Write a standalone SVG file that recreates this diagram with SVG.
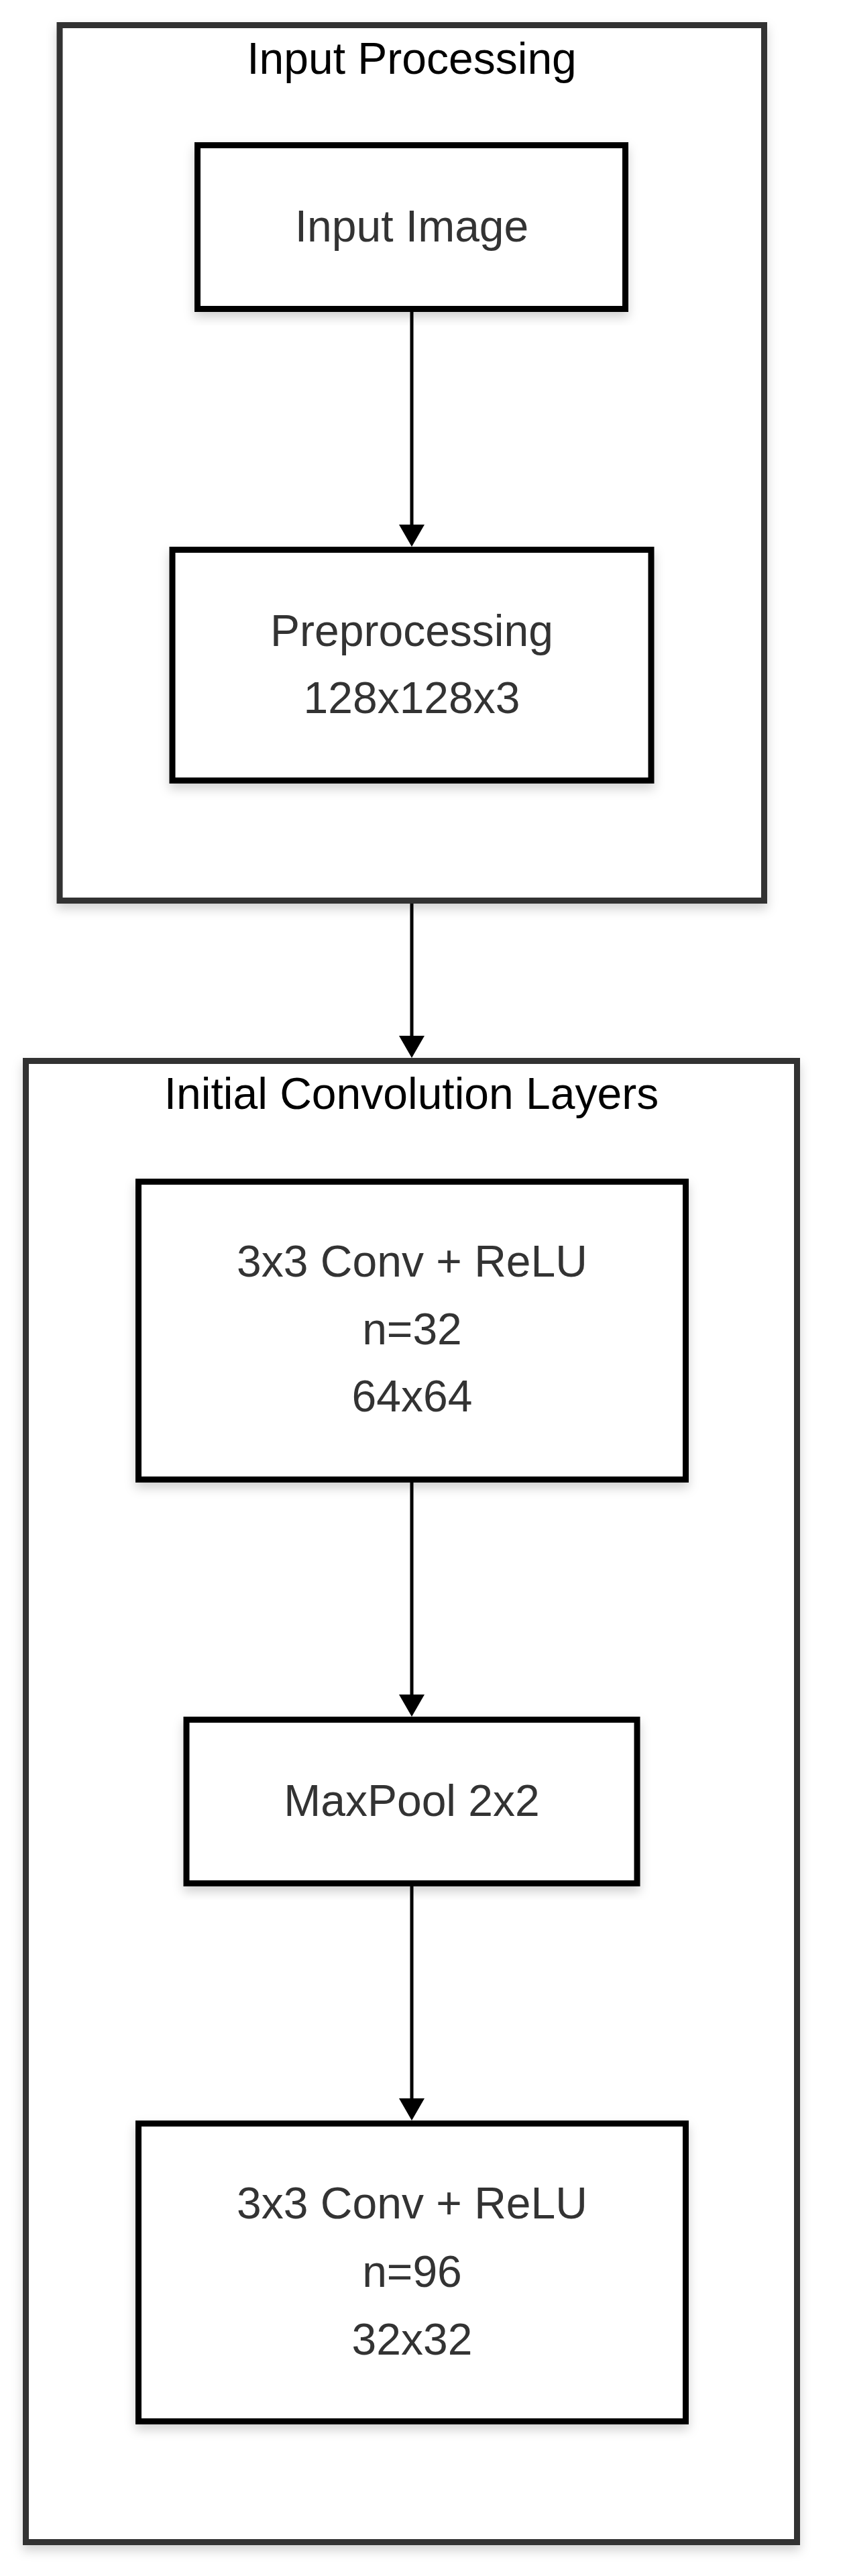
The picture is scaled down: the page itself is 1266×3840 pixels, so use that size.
<svg xmlns="http://www.w3.org/2000/svg" width="1266" height="3840" viewBox="0 0 1266 3840">
<style>
.cluster rect{fill:#ffffff;stroke:#333333;stroke-width:9;filter:url(#shadow)}
.node rect{fill:#ffffff;stroke:#000000;stroke-width:9;filter:url(#shadow)}
.title{font-family:"Liberation Sans",Arial,sans-serif;font-size:66px;fill:#000000;text-anchor:middle}
.label{font-family:"Liberation Sans",Arial,sans-serif;font-size:66px;fill:#333333;text-anchor:middle}
.edge{stroke:#000000;stroke-width:5;fill:none;marker-end:url(#arrow)}
</style>
<defs>
<filter id="shadow" x="-10%" y="-10%" width="120%" height="120%">
<feDropShadow dx="0" dy="8" stdDeviation="8" flood-color="#000000" flood-opacity="0.18"/>
</filter>
<marker id="arrow" viewBox="0 0 33 38" refX="0" refY="19" markerWidth="33" markerHeight="38" markerUnits="userSpaceOnUse" orient="auto">
<path d="M0,0 L33,19 L0,38 z" fill="#000000"/>
</marker>
</defs>
<rect width="1266" height="3840" fill="#ffffff"/>
<g id="cluster-input" class="cluster">
<rect x="89" y="37.5" width="1050.5" height="1305"/>
<text class="title" x="614" y="110">Input Processing</text>
</g>
<g id="cluster-conv" class="cluster">
<rect x="38.5" y="1581.5" width="1150" height="2208"/>
<text class="title" x="613.5" y="1653">Initial Convolution Layers</text>
</g>
<g id="edges">
<line class="edge" x1="614" y1="465" x2="614" y2="782"/>
<line class="edge" x1="614" y1="1347" x2="614" y2="1544"/>
<line class="edge" x1="614" y1="2210" x2="614" y2="2526"/>
<line class="edge" x1="614" y1="2812" x2="614" y2="3128"/>
</g>
<g id="node-input-image" class="node">
<rect x="294.5" y="216.5" width="638" height="244"/>
<text class="label" x="614" y="360">Input Image</text>
</g>
<g id="node-preprocessing" class="node">
<rect x="257" y="819.5" width="714" height="344"/>
<text class="label" x="614" y="963">Preprocessing</text>
<text class="label" x="614" y="1063">128x128x3</text>
</g>
<g id="node-conv1" class="node">
<rect x="206.5" y="1761.5" width="816" height="444"/>
<text class="label" x="614.5" y="1903">3x3 Conv + ReLU</text>
<text class="label" x="614.5" y="2004">n=32</text>
<text class="label" x="614.5" y="2104">64x64</text>
</g>
<g id="node-maxpool" class="node">
<rect x="278" y="2563.5" width="672" height="244"/>
<text class="label" x="614" y="2707">MaxPool 2x2</text>
</g>
<g id="node-conv2" class="node">
<rect x="206.5" y="3165.5" width="816" height="444"/>
<text class="label" x="614.5" y="3307">3x3 Conv + ReLU</text>
<text class="label" x="614.5" y="3409">n=96</text>
<text class="label" x="614.5" y="3510">32x32</text>
</g>
</svg>
